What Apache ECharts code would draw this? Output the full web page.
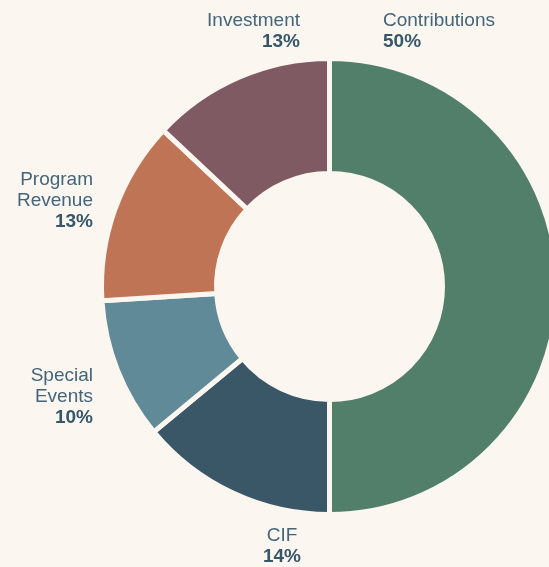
<!DOCTYPE html>
<html><head><meta charset="utf-8">
<script src="https://cdn.jsdelivr.net/npm/echarts@6/dist/echarts.min.js"></script>
<style>html,body{margin:0;padding:0;background:#FBF6EF;}#c{width:549px;height:567px;}</style>
</head><body><div id="c"></div>
<script>
var categories = ['Contributions', 'CIF', 'Special Events', 'Program Revenue', 'Investment'];
var labelNames = ['Contributions', 'CIF', 'Special\nEvents', 'Program\nRevenue', 'Investment'];
var values = [50, 14, 10, 13, 13];
var colors = ['#527F6A', '#3A5768', '#618A99', '#C07456', '#7F5A62'];
// label anchor positions (layout only)
var labelPos = [
  {x: 383, y: 10, align: 'left'},
  {x: 282, y: 525, align: 'center'},
  {x: 93, y: 365, align: 'right'},
  {x: 93, y: 169, align: 'right'},
  {x: 300, y: 10, align: 'right'}
];
var chart = echarts.init(document.getElementById('c'), null, {renderer: 'canvas'});
var data = categories.map(function (c, i) {
  return {name: c, value: values[i], itemStyle: {color: colors[i]},
    label: {align: labelPos[i].align, rich: {n: {align: labelPos[i].align}, p: {align: labelPos[i].align}}}};
});
chart.setOption({
  backgroundColor: '#FBF6EF',
  series: [{
    type: 'pie',
    center: [329.5, 286.5],
    radius: [113, 228],
    startAngle: 90,
    clockwise: true,
    avoidLabelOverlap: false,
    itemStyle: {borderColor: '#FBF6EF', borderWidth: 5},
    label: {
      show: true,
      position: 'outside',
      overflow: 'none',
      color: '#3E5C6E',
      fontFamily: 'Liberation Sans, Arial, sans-serif',
      formatter: function (p) {
        var nm = labelNames[p.dataIndex].split('\n').map(function (s) { return '{n|' + s + '}'; }).join('\n');
        return nm + '\n{p|' + p.value + '%}';
      },
      rich: {
        n: {fontSize: 19, lineHeight: 21, color: '#44657A', fontFamily: 'Liberation Sans, Arial, sans-serif'},
        p: {fontSize: 19, lineHeight: 21, fontWeight: 'bold', color: '#36566A', fontFamily: 'Liberation Sans, Arial, sans-serif'}
      }
    },
    labelLine: {show: false},
    labelLayout: function (params) {
      var lp = labelPos[params.dataIndex];
      return {x: lp.x, y: lp.y, align: lp.align, verticalAlign: 'top'};
    },
    emphasis: {disabled: true},
    animation: false,
    data: data
  }]
});
</script></body></html>
